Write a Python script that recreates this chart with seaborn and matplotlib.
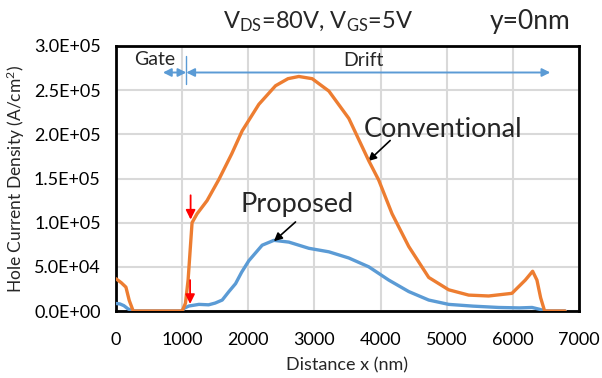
import matplotlib
matplotlib.use("Agg")
import matplotlib.pyplot as plt
import seaborn as sns
import pandas as pd
from matplotlib.ticker import FuncFormatter, MultipleLocator

# ---- data ----
conv_x = [0, 80, 150, 200, 260, 400, 600, 800, 1000, 1050, 1090, 1125, 1150, 1225, 1377,
          1556, 1750, 1908, 2160, 2412, 2600, 2764, 2966, 3218, 3520, 3822, 3973, 4174,
          4426, 4728, 5030, 5332, 5634, 5986, 6188, 6299, 6364, 6420, 6480, 6600, 6790]
conv_y = [3.65e4, 3.2e4, 2.7e4, 1.2e4, 0, 0, 0, 0, 0, 0.87e4, 3.5e4, 7.3e4, 10.0e4, 11.0e4,
          12.5e4, 14.9e4, 17.8e4, 20.4e4, 23.4e4, 25.5e4, 26.3e4, 26.55e4, 26.3e4, 24.9e4,
          21.8e4, 17.0e4, 14.8e4, 11.0e4, 7.3e4, 3.8e4, 2.4e4, 1.8e4, 1.7e4, 2.0e4, 3.5e4,
          4.5e4, 3.5e4, 1.5e4, 0, 0, 0]

prop_x = [0, 60, 120, 180, 250, 400, 600, 800, 1000, 1027, 1100, 1254, 1400, 1500, 1606,
          1707, 1808, 1900, 2009, 2210, 2387, 2613, 2915, 3218, 3520, 3822, 4124, 4426,
          4728, 5030, 5400, 5785, 6100, 6290, 6400, 6490, 6790]
prop_y = [0.85e4, 0.8e4, 0.6e4, 0.25e4, 0, 0, 0, 0, 0, 0.3e4, 0.56e4, 0.75e4, 0.7e4, 0.9e4,
          1.24e4, 2.2e4, 3.1e4, 4.4e4, 5.7e4, 7.45e4, 8.0e4, 7.8e4, 7.1e4, 6.7e4, 6.0e4,
          5.0e4, 3.5e4, 2.2e4, 1.24e4, 0.75e4, 0.55e4, 0.4e4, 0.35e4, 0.4e4, 0.2e4, 0, 0]

x_ticks = [0, 1000, 2000, 3000, 4000, 5000, 6000, 7000]

ORANGE = "#ED7D31"
BLUE = "#5B9BD5"

sns.set_theme(style="white")
plt.rcParams["font.family"] = ["Lato", "DejaVu Sans"]
plt.rcParams["mathtext.fontset"] = "custom"
plt.rcParams["mathtext.rm"] = "Lato"
plt.rcParams["mathtext.it"] = "Lato:italic"

fig = plt.figure(figsize=(6.02, 3.78), dpi=100)
ax = fig.add_axes([116 / 602, 1 - 311 / 378, (579 - 116) / 602, (311 - 46) / 378])

df_p = pd.DataFrame({"x": prop_x, "y": prop_y})
df_c = pd.DataFrame({"x": conv_x, "y": conv_y})
sns.lineplot(data=df_p, x="x", y="y", color=BLUE, lw=2.4, ax=ax, zorder=3)
sns.lineplot(data=df_c, x="x", y="y", color=ORANGE, lw=2.4, ax=ax, zorder=4)

ax.set_xlim(0, 7000)
ax.set_ylim(0, 3.0e5)
ax.set_xticks(x_ticks)
ax.yaxis.set_major_locator(MultipleLocator(5e4))
ax.yaxis.set_major_formatter(FuncFormatter(lambda v, p: f"{v:.1E}"))
ax.grid(True, color="#d9d9d9", lw=1.5, zorder=0)
ax.set_axisbelow(True)
for s in ax.spines.values():
    s.set_color("black")
    s.set_linewidth(2.0)
ax.tick_params(axis="both", direction="in", length=5, width=1.5, color="black",
               labelsize=13, colors="black")
ax.tick_params(axis="y", pad=11)
ax.tick_params(axis="x", pad=15)
ax.set_xlabel("Distance x (nm)", fontsize=13, labelpad=7)
ax.set_ylabel("Hole Current Density (A/cm$^{2}$)", fontsize=12.5, labelpad=5)

# title texts
fig.text(223 / 602, 1 - 22 / 378, r"V$_{\mathrm{DS}}$=80V, V$_{\mathrm{GS}}$=5V",
         fontsize=17, ha="left", va="center")
fig.text(490 / 602, 1 - 22 / 378, "y=0nm", fontsize=19, ha="left", va="center")

# Gate / Drift arrows
arrow_y = 2.70e5
ax.annotate("", xy=(710, arrow_y), xytext=(1063, arrow_y),
            arrowprops=dict(arrowstyle="<|-|>", color=BLUE, lw=1.4, shrinkA=0, shrinkB=0,
                            mutation_scale=12))
ax.annotate("", xy=(6566, arrow_y), xytext=(1063, arrow_y),
            arrowprops=dict(arrowstyle="<|-|>", color=BLUE, lw=1.4, shrinkA=0, shrinkB=0,
                            mutation_scale=12))
ax.plot([1063, 1063], [2.57e5, 2.89e5], color=BLUE, lw=1.0)
ax.text(582, 2.85e5, "Gate", fontsize=14, ha="center", va="center")
ax.text(3739, 2.84e5, "Drift", fontsize=14, ha="center", va="center")

# labels with black arrows
ax.text(4940, 1.975e5, "Conventional", fontsize=19.5, ha="center", va="baseline")
ax.annotate("", xy=(3812, 1.696e5), xytext=(4145, 1.93e5),
            arrowprops=dict(arrowstyle="-|>", color="black", lw=1.2, mutation_scale=12,
                            shrinkA=0, shrinkB=0))
ax.text(2740, 1.12e5, "Proposed", fontsize=19.5, ha="center", va="baseline")
ax.annotate("", xy=(2387, 7.9e4), xytext=(2714, 1.008e5),
            arrowprops=dict(arrowstyle="-|>", color="black", lw=1.2, mutation_scale=12,
                            shrinkA=0, shrinkB=0))

# red arrows
ax.annotate("", xy=(1128, 1.035e5), xytext=(1128, 1.31e5),
            arrowprops=dict(arrowstyle="-|>", color="red", lw=1.3, mutation_scale=14,
                            shrinkA=0, shrinkB=0), zorder=5)
ax.annotate("", xy=(1120, 0.8e4), xytext=(1120, 3.5e4),
            arrowprops=dict(arrowstyle="-|>", color="red", lw=1.3, mutation_scale=14,
                            shrinkA=0, shrinkB=0), zorder=5)

fig.savefig("out.png", dpi=100)
